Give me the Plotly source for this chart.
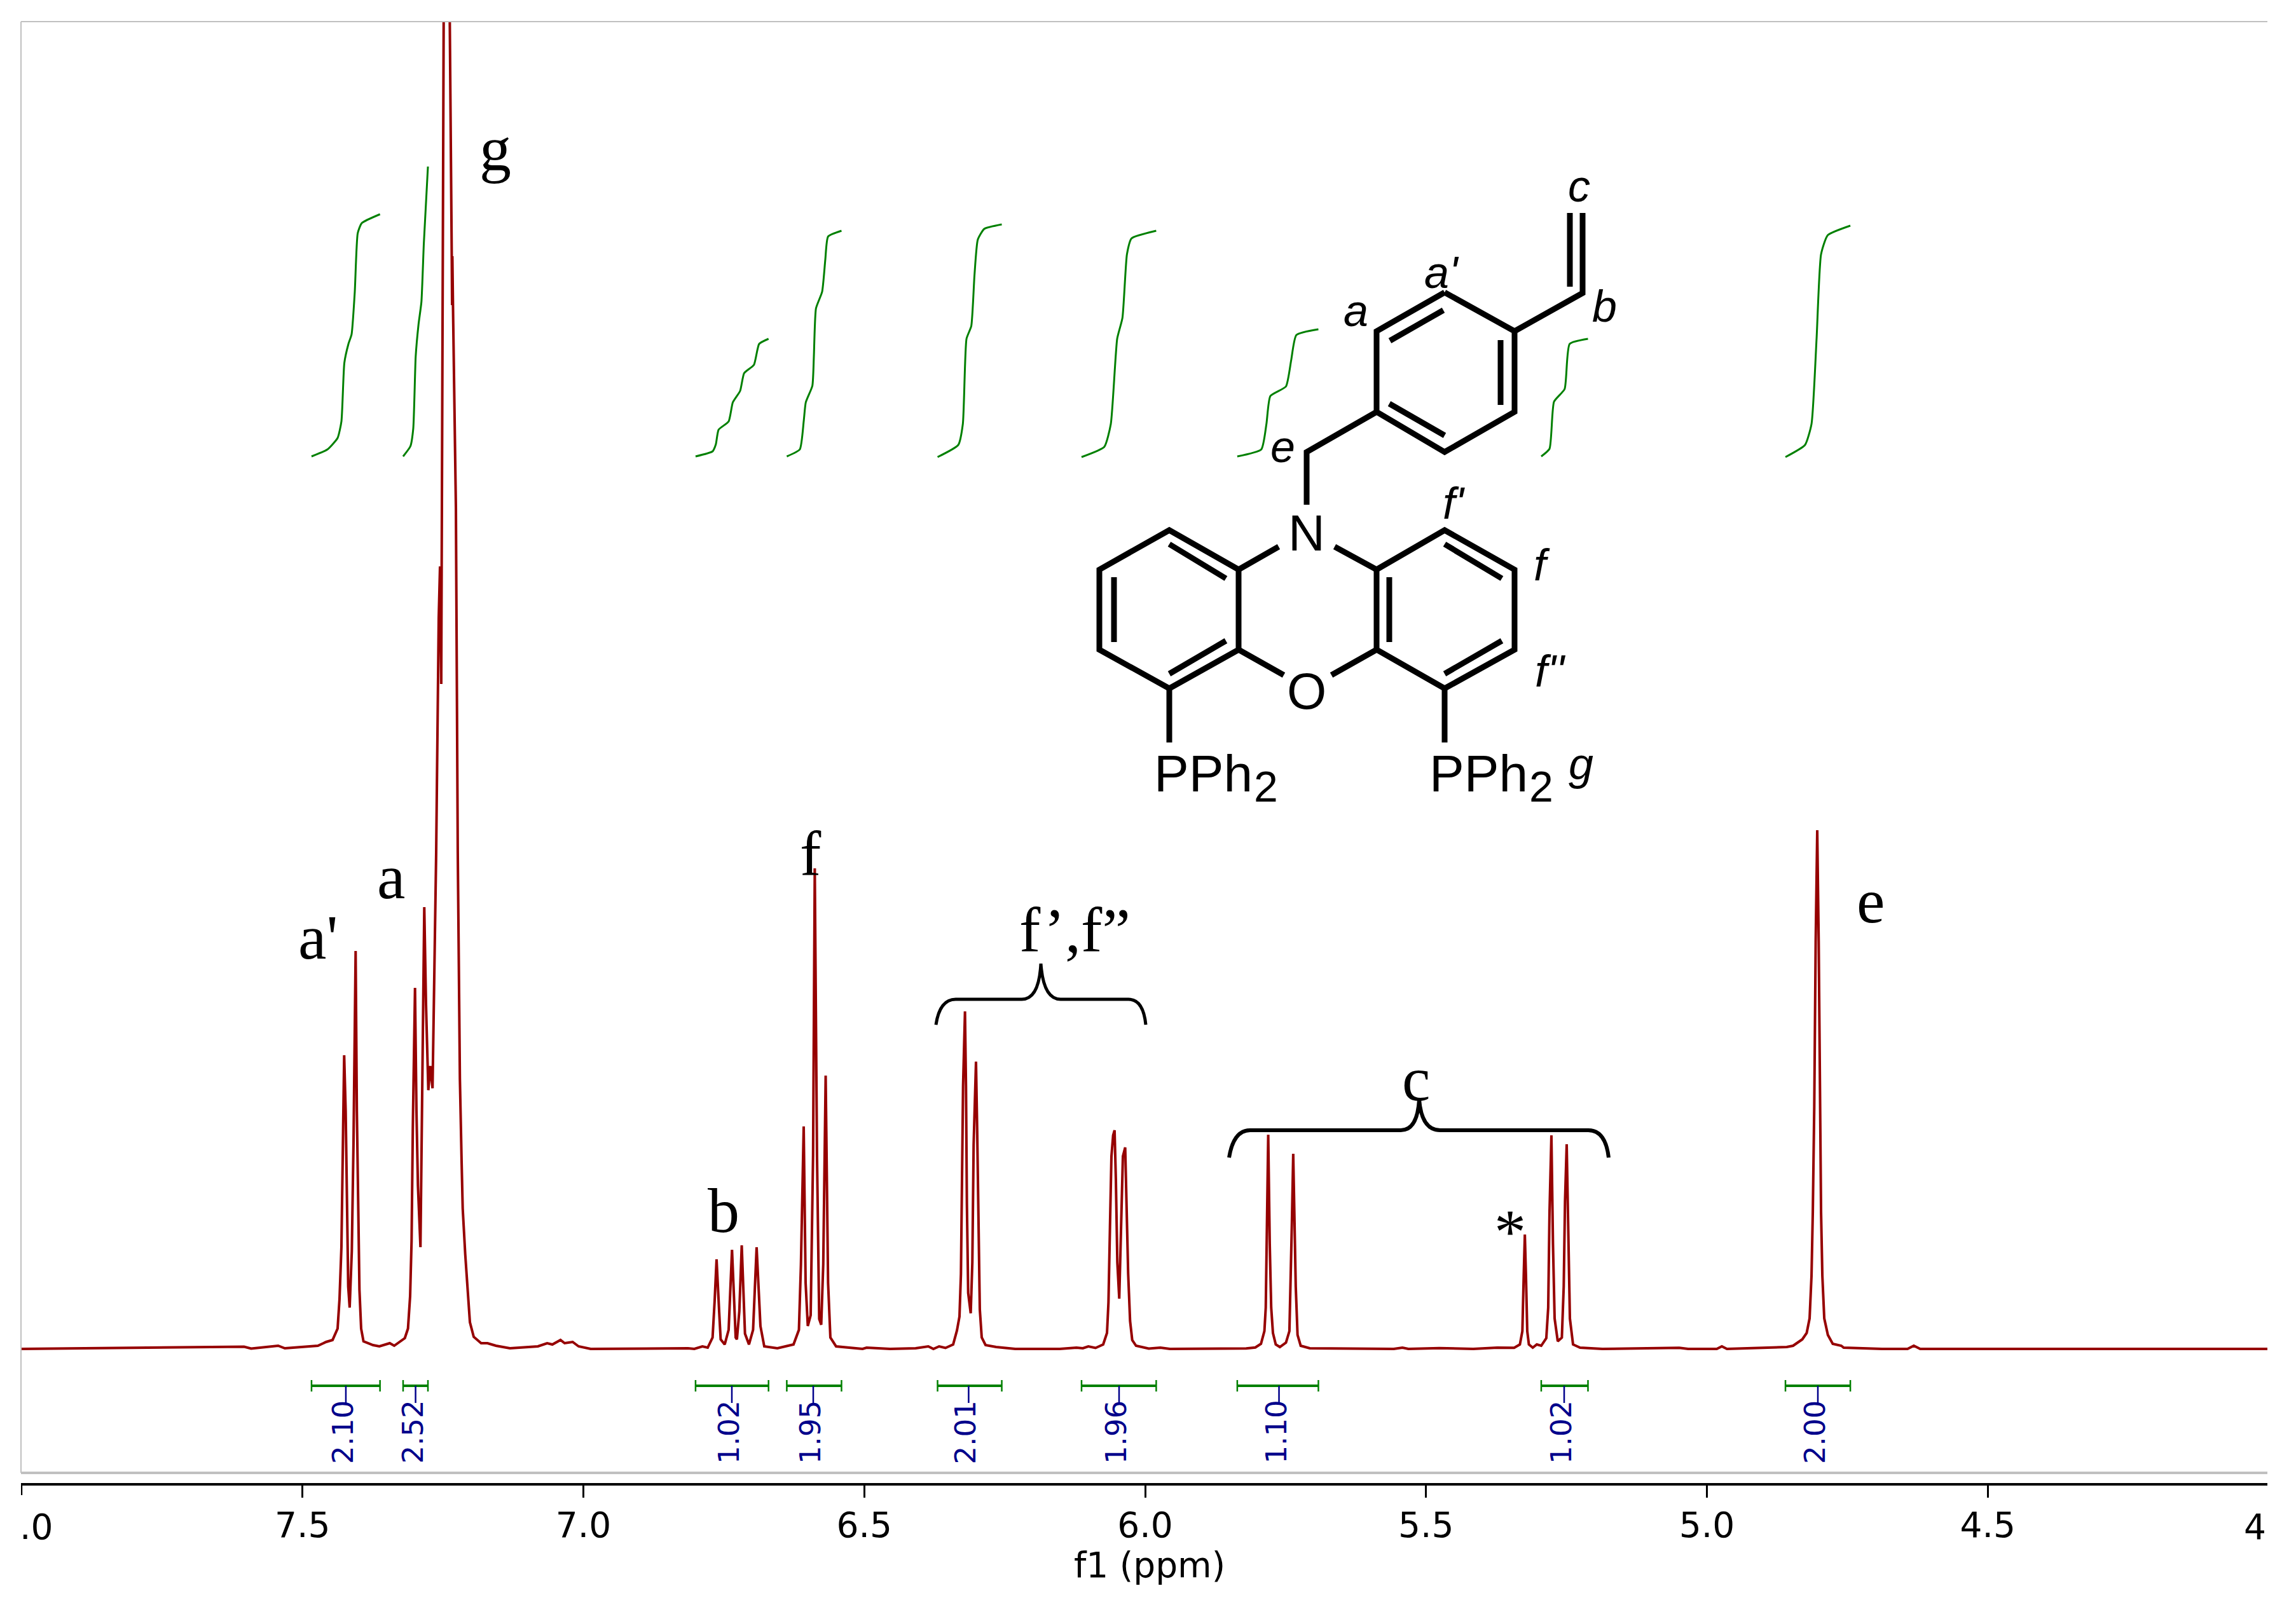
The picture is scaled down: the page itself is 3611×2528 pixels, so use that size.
import plotly.graph_objects as go

# spectrum (ppm, height above baseline)
ppm = [8.000, 7.604, 7.5914, 7.5433, 7.5314, 7.4952, 7.4726, 7.4578, 7.4465, 7.4375, 7.4341, 7.4307, 7.4284, 7.4258,
       7.4231, 7.4208, 7.4186, 7.4160, 7.4122, 7.4092, 7.4054, 7.4032, 7.4009, 7.3986, 7.3956, 7.3914, 7.3744, 7.3631,
       7.3447, 7.3367, 7.3178, 7.3122, 7.3084, 7.3058, 7.3036, 7.2997, 7.2971, 7.2945, 7.2900, 7.2869, 7.2832, 7.2801,
       7.2760, 7.2726, 7.2685, 7.2651, 7.2620, 7.2575, 7.2552, 7.2530, 7.2518, 7.2487, 7.2433, 7.2378, 7.2343, 7.2337,
       7.2332, 7.2321, 7.2269, 7.2236, 7.2224, 7.2198, 7.2168, 7.2148, 7.2103, 7.2066, 7.2020, 7.1952, 7.1820, 7.1707,
       7.1556, 7.1307, 7.0809, 7.0645, 7.0552, 7.0407, 7.0334, 7.0191, 7.0085, 6.9870, 6.8138, 6.8025, 6.7881, 6.7787,
       6.7700, 6.7663, 6.7629, 6.7583, 6.7556, 6.7484, 6.7414, 6.7354, 6.7289, 6.7267, 6.7224, 6.7181, 6.7123, 6.7052,
       6.6979, 6.6916, 6.6848, 6.6780, 6.6546, 6.6259, 6.6163, 6.6127, 6.6078, 6.6044, 6.6005, 6.5954, 6.5911, 6.5881,
       6.5841, 6.5802, 6.5766, 6.5730, 6.5687, 6.5644, 6.5603, 6.5501, 6.5189, 6.5030, 6.4958, 6.4539, 6.4086, 6.3860,
       6.3769, 6.3667, 6.3554, 6.3418, 6.3350, 6.3305, 6.3279, 6.3260, 6.3241, 6.3207, 6.3189, 6.3173, 6.3150, 6.3105,
       6.3076, 6.3053, 6.3011, 6.2989, 6.2969, 6.2943, 6.2909, 6.2841, 6.2652, 6.2312, 6.1520, 6.1222, 6.1109, 6.1011,
       6.0883, 6.0747, 6.0679, 6.0653, 6.0626, 6.0600, 6.0570, 6.0544, 6.0521, 6.0495, 6.0461, 6.0427, 6.0396, 6.0355,
       6.0332, 6.0302, 6.0268, 6.0230, 6.0162, 5.9936, 5.9729, 5.9559, 5.8201, 5.8039, 5.7938, 5.7877, 5.7853, 5.7833,
       5.7809, 5.7782, 5.7756, 5.7725, 5.7675, 5.7602, 5.7493, 5.7432, 5.7404, 5.7388, 5.7364, 5.7340, 5.7319, 5.7287,
       5.7231, 5.7069, 5.5574, 5.5420, 5.5314, 5.4764, 5.4160, 5.3734, 5.3431, 5.3329, 5.3285, 5.3261, 5.3241, 5.3221,
       5.3198, 5.3169, 5.3100, 5.3028, 5.2949, 5.2859, 5.2825, 5.2802, 5.2768, 5.2740, 5.2711, 5.2655, 5.2582, 5.2549,
       5.2526, 5.2496, 5.2469, 5.2439, 5.2383, 5.2258, 5.1862, 5.0493, 5.0334, 4.9825, 4.9734, 4.9643, 4.8579, 4.8466,
       4.8302, 4.8224, 4.8172, 4.8138, 4.8115, 4.8089, 4.8064, 4.8036, 4.8010, 4.7990, 4.7968, 4.7945, 4.7911, 4.7847,
       4.7760, 4.7608, 4.7565, 4.6882, 4.6429, 4.6317, 4.6203, 4.3034, 4.0023]
intensity = [0, 3.5, 0.5, 5, 1, 3, 5, 11, 14, 32, 78, 160, 292, 462,
             374, 221, 98, 65, 154, 323, 626, 374, 221, 93, 32, 12, 6, 4,
             9, 5, 17, 32, 83, 170, 348, 568, 374, 257, 160, 374, 695, 542,
             407, 445, 410, 603, 782, 1150, 1231, 1046, 1322, 2088, 2500, 2088, 1719, 1642,
             1719, 1642, 1322, 782, 655, 425, 297, 221, 149, 98, 42, 19, 9, 9,
             5, 1, 4, 9, 7, 14, 9, 11, 4, 0, 1, 0, 4, 2,
             18, 76, 141, 59, 15, 7, 30, 156, 18, 15, 59, 163, 24, 7,
             30, 160, 36, 4, 1, 7, 30, 133, 350, 104, 36, 53, 305, 756,
             305, 47, 38, 133, 430, 104, 18, 4, 2, 0, 2, 0, 1, 4,
             0, 4, 1.5, 7, 29, 51, 118, 266, 414, 531, 414, 229, 88, 56,
             136, 321, 452, 340, 192, 62, 18, 6, 3, 0, 0, 2, 1, 4,
             1.5, 7, 25, 73, 192, 303, 336, 344, 266, 136, 79, 192, 303, 317,
             229, 118, 44, 14, 5, 0.5, 2, 0, 0.7, 2.3, 8, 28, 65, 165,
             337, 165, 65, 25, 7, 3, 10, 28, 115, 198, 307, 198, 98, 22,
             5, 1, 0, 2, 0, 1.3, 0, 2, 1.7, 7, 28, 115, 180, 115,
             28, 7, 2, 7, 5, 17, 65, 215, 336, 165, 48, 12, 18, 98,
             232, 322, 182, 48, 7, 2, 0, 1.7, 0, 0, 4, 0, 3, 5,
             15, 25, 48, 115, 215, 382, 640, 816, 640, 382, 215, 115, 48, 22,
             8, 5, 2, 0, 0, 5, 0, 0, 0]

# integral curves
integral_ppm = [
    [7.4839, 7.4556, 7.4375, 7.4307, 7.4255, 7.4182, 7.4126, 7.4069, 7.4017, 7.3945, 7.3620],
    [7.3209, 7.3079, 7.3028, 7.2985, 7.2934, 7.2883, 7.2840, 7.2767],
    [6.8003, 6.7700, 6.7642, 6.7593, 6.7414, 6.7340, 6.7210, 6.7138, 6.6964, 6.6871, 6.6704],
    [6.6379, 6.6148, 6.6078, 6.6041, 6.5924, 6.5897, 6.5859, 6.5750, 6.5693, 6.5643, 6.5405],
    [6.3695, 6.3327, 6.3245, 6.3180, 6.3095, 6.3038, 6.2979, 6.2863, 6.2552],
    [6.1132, 6.0728, 6.0611, 6.0498, 6.0404, 6.0324, 6.0242, 5.9803],
    [5.8360, 5.7933, 5.7841, 5.7771, 5.7494, 5.7401, 5.7308, 5.6916],
    [5.2949, 5.2802, 5.2722, 5.2533, 5.2443, 5.2117],
    [4.8602, 4.8254, 4.8138, 4.8048, 4.7968, 4.7849, 4.7447],
]
integral_height = [
    [1404, 1415, 1433, 1459, 1551, 1581, 1596, 1663, 1755, 1771, 1785],
    [1404, 1420, 1448, 1561, 1612, 1647, 1739, 1860],
    [1404, 1412, 1423, 1446, 1459, 1489, 1507, 1535, 1548, 1581, 1589],
    [1404, 1415, 1459, 1489, 1515, 1561, 1637, 1663, 1714, 1750, 1759],
    [1403, 1422, 1455, 1589, 1609, 1689, 1745, 1762, 1769],
    [1403, 1419, 1455, 1589, 1622, 1722, 1747, 1759],
    [1404, 1415, 1455, 1499, 1514, 1555, 1595, 1604],
    [1404, 1416, 1490, 1510, 1581, 1589],
    [1403, 1422, 1455, 1589, 1722, 1752, 1767],
]
integral_mid = [7.4228, 7.2987, 6.7357, 6.5908, 6.3142, 6.0464, 5.7617, 5.2541, 4.8025]
integral_labels = ["2.10", "2.52", "1.02", "1.95", "2.01", "1.96", "1.10", "1.02", "2.00"]

tick_vals = [7.5, 7.0, 6.5, 6.0, 5.5, 5.0, 4.5]
tick_text = ["7.5", "7.0", "6.5", "6.0", "5.5", "5.0", "4.5"]

# canvas pixels of the plot box
LEFT, RIGHT, TOP, BOTTOM = 33, 3566, 34, 2333
RED = "#960000"
GREEN = "#008000"
NAVY = "#00008B"
GREY = "#C0C0C0"
SERIF = "Liberation Serif"
SANS = "Liberation Sans"
AXIS_FONT = "DejaVu Sans"


def px(x):
    return (x - LEFT) / (RIGHT - LEFT)


def py(y):
    return (BOTTOM - y) / (BOTTOM - TOP)


def path(points):
    return "M " + " L ".join(f"{px(a):.5f},{py(b):.5f}" for a, b in points)


def curve(d):
    # d holds pixel pairs, letters pass through
    out = []
    for item in d:
        if isinstance(item, str):
            out.append(item)
        else:
            out.append(f"{px(item[0]):.5f},{py(item[1]):.5f}")
    return " ".join(out)


fig = go.Figure()

fig.add_trace(go.Scatter(x=ppm, y=intensity, mode="lines", line=dict(color=RED, width=4), showlegend=False))

for xs, ys in zip(integral_ppm, integral_height):
    fig.add_trace(go.Scatter(x=xs, y=ys, mode="lines", showlegend=False,
                             line=dict(color=GREEN, width=3, shape="spline", smoothing=0.5)))

# integral range bars and labels below the baseline
annotations = []
for xs, mid, label_text in zip(integral_ppm, integral_mid, integral_labels):
    fig.add_trace(go.Scatter(x=[xs[0], xs[-1]], y=[-58, -58], mode="lines", line=dict(color=GREEN, width=4),
                             showlegend=False))
    for end in (xs[0], xs[-1]):
        fig.add_trace(go.Scatter(x=[end, end], y=[-49, -67], mode="lines", line=dict(color=GREEN, width=2.5),
                                 showlegend=False))
    fig.add_trace(go.Scatter(x=[mid, mid], y=[-58, -85], mode="lines", line=dict(color=NAVY, width=2.5),
                             showlegend=False))
    annotations.append(dict(x=mid, y=-131, xref="x", yref="y", text=label_text, textangle=-90, showarrow=False,
                            xshift=-5, font=dict(family=AXIS_FONT, size=45, color=NAVY)))


def label(text, x, baseline, size=100, family=SERIF, anchor="center"):
    annotations.append(dict(x=px(x), y=py(baseline - 0.3375 * size), xref="paper", yref="paper", text=text,
                            showarrow=False, xanchor=anchor, yanchor="middle",
                            font=dict(family=family, size=size, color="black")))


# peak letters
label("a'", 500, 1508)
label("a", 615, 1413)
label("g", 779, 268)
label("b", 1138, 1938)
label("f", 1275, 1377)
label("f’,f”", 1690, 1497)
label("c", 2227, 1731)
label("e", 2942, 1451)
label("*", 2375, 1971)

# structure atoms and letters
label("N", 2055, 866, 80, SANS)
label("O", 2055, 1114, 80, SANS)
for left in (1813, 2246):
    label("PPh", left, 1244, 82, SANS, "left")
    label("2", left + 157, 1260, 68, SANS, "left")
for text, x, base in [("c", 2483, 317), ("a'", 2267, 453), ("a", 2132, 513), ("b", 2523, 506), ("e", 2017, 727),
                      ("f'", 2286, 816), ("f", 2425, 913), ("f''", 2438, 1080), ("g", 2486, 1226)]:
    label(f"<i>{text}</i>", x, base, 70, SANS)

# clipped end labels of the axis and the axis name
label(".0", LEFT - 4, 2421, 55, AXIS_FONT, "left")
label("4", RIGHT, 2421, 55, AXIS_FONT, "right")
label("f1 (ppm)", 1808, 2481, 55, AXIS_FONT)

shapes = []
# frame
for a, b, w in [((LEFT, TOP), (RIGHT, TOP), 2), ((LEFT, TOP), (LEFT, 2317), 2), ((LEFT, 2317), (RIGHT, 2317), 4)]:
    shapes.append(dict(type="path", path=path([a, b]), xref="paper", yref="paper", line=dict(color=GREY, width=w)))

# tick at the cut left end
shapes.append(dict(type="line", x0=8.0, x1=8.0, xref="x", y0=py(2333), y1=py(2352), yref="paper",
                   line=dict(color="black", width=2.5)))

# braces
brace_f = ["M", (1472, 1612), "Q", (1478, 1572), (1503, 1572), "L", (1607, 1572), "Q", (1634, 1572), (1637, 1516),
           "Q", (1641, 1572), (1668, 1572), "L", (1775, 1572), "Q", (1798, 1572), (1802, 1612)]
brace_c = ["M", (1933, 1821), "Q", (1940, 1778), (1966, 1778), "L", (2203, 1778), "Q", (2229, 1778), (2232, 1730),
           "Q", (2236, 1778), (2265, 1778), "L", (2498, 1778), "Q", (2525, 1778), (2530, 1821)]
for d, w in ((brace_f, 5), (brace_c, 6)):
    shapes.append(dict(type="path", path=curve(d), xref="paper", yref="paper", line=dict(color="black", width=w)))

# molecule bonds
bonds = [
    [(2272, 460), (2382, 521), (2382, 648), (2272, 711), (2165, 648), (2165, 521), (2272, 460)],
    [(2382, 521), (2489, 461), (2489, 335)],
    [(2469, 335), (2469, 451)],
    [(2360, 535), (2360, 637)],
    [(2186, 536), (2270, 488)],
    [(2185, 635), (2272, 685)],
    [(2165, 648), (2055, 711), (2055, 794)],
    [(2011, 860), (1948, 896)],
    [(2099, 860), (2165, 896)],
    [(2165, 896), (2272, 834), (2382, 896), (2382, 1022), (2272, 1083), (2165, 1022), (2165, 896)],
    [(1948, 896), (1839, 834), (1729, 896), (1729, 1022), (1839, 1083), (1948, 1022), (1948, 896)],
    [(1839, 856), (1928, 910)],
    [(1752, 908), (1752, 1010)],
    [(1839, 1060), (1928, 1008)],
    [(2185, 908), (2185, 1010)],
    [(2272, 856), (2362, 910)],
    [(2272, 1060), (2362, 1008)],
    [(1948, 1022), (2019, 1062)],
    [(2165, 1022), (2094, 1062)],
    [(1839, 1083), (1839, 1168)],
    [(2272, 1083), (2272, 1168)],
]
for b in bonds:
    shapes.append(dict(type="path", path=path(b), xref="paper", yref="paper", line=dict(color="black", width=9)))

fig.update_layout(
    width=3611,
    height=2528,
    autosize=False,
    margin=dict(l=LEFT, r=3611 - RIGHT, t=TOP, b=2528 - BOTTOM, pad=0),
    plot_bgcolor="white",
    paper_bgcolor="white",
    showlegend=False,
    annotations=annotations,
    shapes=shapes,
)
fig.update_xaxes(
    range=[8.0011, 4.0023],
    tickmode="array",
    tickvals=tick_vals,
    ticktext=tick_text,
    ticks="outside",
    ticklen=19,
    tickwidth=2.5,
    tickcolor="black",
    showline=True,
    linecolor="black",
    linewidth=4,
    showgrid=False,
    zeroline=False,
    tickangle=0,
    ticklabelstandoff=-4,
    tickfont=dict(family=AXIS_FONT, size=55, color="black"),
)
fig.update_yaxes(range=[-211, 2088], visible=False)

fig.write_html("out.html", config={"displayModeBar": False}, post_script="document.body.style.margin='0';")
